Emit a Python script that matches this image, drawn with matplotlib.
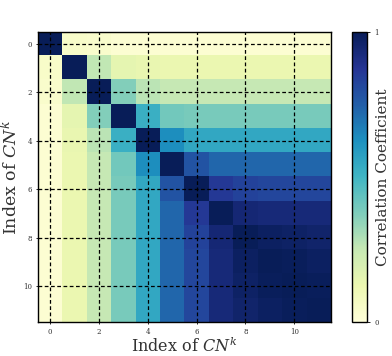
import numpy as np
import matplotlib
matplotlib.use("Agg")
import matplotlib.pyplot as plt

plt.rcParams["font.family"] = "serif"
plt.rcParams["font.serif"] = ["DejaVu Serif"]
plt.rcParams["mathtext.fontset"] = "dejavuserif"

# correlation between index k and index j of CN^k
corr = np.array([
    [1.00, 0.05, 0.04, 0.02, 0.02, 0.02, 0.02, 0.02, 0.02, 0.02, 0.02, 0.02],
    [0.05, 1.00, 0.26, 0.15, 0.14, 0.13, 0.13, 0.13, 0.13, 0.13, 0.13, 0.13],
    [0.04, 0.26, 1.00, 0.37, 0.27, 0.25, 0.25, 0.25, 0.25, 0.25, 0.25, 0.25],
    [0.02, 0.15, 0.37, 1.00, 0.52, 0.40, 0.39, 0.39, 0.39, 0.39, 0.39, 0.39],
    [0.02, 0.14, 0.27, 0.52, 1.00, 0.63, 0.55, 0.55, 0.55, 0.55, 0.55, 0.55],
    [0.02, 0.13, 0.25, 0.40, 0.63, 1.00, 0.78, 0.73, 0.73, 0.73, 0.73, 0.73],
    [0.02, 0.13, 0.25, 0.39, 0.55, 0.78, 1.00, 0.86, 0.83, 0.82, 0.82, 0.82],
    [0.02, 0.13, 0.25, 0.39, 0.55, 0.73, 0.86, 1.00, 0.94, 0.93, 0.93, 0.93],
    [0.02, 0.13, 0.25, 0.39, 0.55, 0.73, 0.83, 0.94, 1.00, 0.98, 0.97, 0.96],
    [0.02, 0.13, 0.25, 0.39, 0.55, 0.73, 0.82, 0.93, 0.98, 1.00, 0.99, 0.98],
    [0.02, 0.13, 0.25, 0.39, 0.55, 0.73, 0.82, 0.93, 0.97, 0.99, 1.00, 0.99],
    [0.02, 0.13, 0.25, 0.39, 0.55, 0.73, 0.82, 0.93, 0.96, 0.98, 0.99, 1.00],
])
tick_pos = [0, 2, 4, 6, 8, 10]
cbar_ticks = [0, 1]

fig = plt.figure(figsize=(3.92, 3.56), dpi=100)
ax = fig.add_axes([0.097, 0.095, 0.747, 0.815])
cax = fig.add_axes([0.898, 0.095, 0.037, 0.815])

im = ax.imshow(corr, cmap="YlGnBu", vmin=0, vmax=1, aspect="auto",
               interpolation="nearest")
ax.set_xticks(tick_pos)
ax.set_yticks(tick_pos)
ax.tick_params(length=1.5, width=0.6, labelsize=5, pad=3, labelcolor="#333333")
ax.grid(True, color="black", linestyle=(0, (3, 2)), linewidth=0.9)
for s in ax.spines.values():
    s.set_linewidth(1.0)
ax.set_xlabel("Index of $CN^k$", fontsize=11.5, labelpad=0, color="#333333")
ax.set_ylabel("Index of $CN^k$", fontsize=12.5, labelpad=1, color="#333333")

cb = fig.colorbar(im, cax=cax, ticks=cbar_ticks)
cb.ax.tick_params(labelsize=5, length=2, width=0.6, labelcolor="#333333")
cb.outline.set_linewidth(1.0)
cb.set_label("Correlation Coefficient", fontsize=11, labelpad=-2, color="#333333")

fig.savefig("out.png", dpi=100)
